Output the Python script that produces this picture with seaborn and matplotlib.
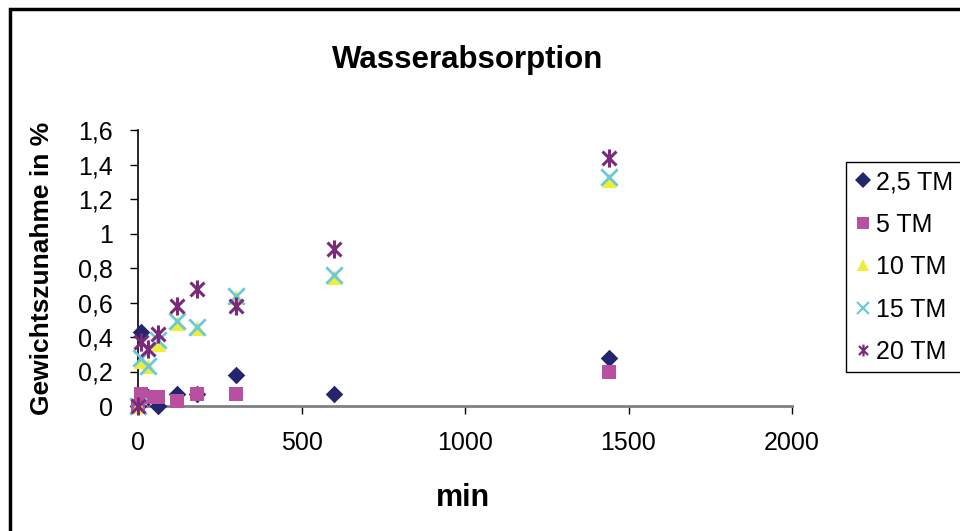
import numpy as np
import pandas as pd
import matplotlib
matplotlib.use("Agg")
import matplotlib.pyplot as plt
import seaborn as sns
from matplotlib.path import Path
from matplotlib.lines import Line2D
from matplotlib.patches import Rectangle

# ---- data ----
minutes = [0, 10, 30, 60, 120, 180, 300, 600, 1440]
tm_2_5 = [0.00, 0.43, 0.05, 0.00, 0.07, 0.07, 0.18, 0.07, 0.28]
tm_5 = [0.00, 0.07, 0.05, 0.05, 0.03, 0.07, 0.07, np.nan, 0.20]
tm_10 = [0.00, 0.26, 0.23, 0.36, 0.48, 0.45, 0.63, 0.75, 1.31]
tm_15 = [0.00, 0.28, 0.23, 0.38, 0.49, 0.46, 0.64, 0.76, 1.33]
tm_20 = [0.00, 0.37, 0.33, 0.42, 0.58, 0.68, 0.58, 0.91, 1.44]
series_labels = ["2,5 TM", "5 TM", "10 TM", "15 TM", "20 TM"]
y_ticks = [0, 0.2, 0.4, 0.6, 0.8, 1.0, 1.2, 1.4, 1.6]
y_tick_labels = ["0", "0,2", "0,4", "0,6", "0,8", "1", "1,2", "1,4", "1,6"]
x_ticks = [0, 500, 1000, 1500, 2000]
x_tick_labels = ["0", "500", "1000", "1500", "2000"]

sns.set_style("white")
plt.rcParams["font.family"] = ["Liberation Sans", "DejaVu Sans"]
plt.rcParams["text.color"] = "black"
plt.rcParams["xtick.color"] = "black"
plt.rcParams["ytick.color"] = "black"

star = Path([(-1, -1), (1, 1), (-1, 1), (1, -1), (0, -1.3), (0, 1.3)],
            [Path.MOVETO, Path.LINETO, Path.MOVETO, Path.LINETO, Path.MOVETO, Path.LINETO])

styles = [
    dict(marker="D", color="#25256f", s=80, lw=0, filled=True),
    dict(marker="s", color="#b84fa0", s=100, lw=0, filled=True),
    dict(marker="^", color="#eeee3a", s=120, lw=0, filled=True),
    dict(marker="x", color="#6cc9dc", s=140, lw=2.0, filled=False),
    dict(marker=star, color="#7a2a78", s=170, lw=2.2, filled=False),
]
values = [tm_2_5, tm_5, tm_10, tm_15, tm_20]

fig = plt.figure(figsize=(9.6, 5.31), dpi=100)
ax = fig.add_axes([138 / 960, (531 - 406) / 531, 654 / 960, 276 / 531])

for i, (vals, st, lab) in enumerate(zip(values, styles, series_labels)):
    df = pd.DataFrame({"min": minutes, "val": vals}).dropna()
    if st["filled"]:
        sns.scatterplot(data=df, x="min", y="val", ax=ax, marker=st["marker"],
                        color=st["color"], s=st["s"], linewidth=0,
                        clip_on=False, zorder=3 + i, legend=False)
    else:
        sns.scatterplot(data=df, x="min", y="val", ax=ax, marker=st["marker"],
                        color=st["color"], edgecolor=st["color"], s=st["s"],
                        linewidth=st["lw"], clip_on=False, zorder=3 + i, legend=False)

ax.set_xlim(0, 2000)
ax.set_ylim(0, 1.6)
ax.set_xticks(x_ticks)
ax.set_xticklabels(x_tick_labels, fontsize=18, color="black")
ax.set_yticks(y_ticks)
ax.set_yticklabels(y_tick_labels, fontsize=18, color="black")
ax.set_xlabel("")
ax.set_ylabel("")
for sp in ["top", "right"]:
    ax.spines[sp].set_visible(False)
ax.spines["left"].set_color("black")
ax.spines["left"].set_linewidth(1.2)
ax.spines["bottom"].set_color("#808080")
ax.spines["bottom"].set_linewidth(2)
ax.tick_params(axis="y", direction="out", length=6, width=1, color="black", pad=12, left=True)
ax.tick_params(axis="x", direction="out", length=6, width=1, color="black", pad=12, bottom=True)
ax.grid(False)

fig.text(468 / 960, 1 - 60 / 531, "Wasserabsorption", ha="center", va="center",
         fontsize=22.5, fontweight="bold", color="black")
fig.text(42 / 960, 1 - 268 / 531, "Gewichtszunahme in %", ha="center", va="center",
         rotation=90, fontsize=19, fontweight="bold", color="black")
fig.text(463 / 960, 1 - 498 / 531, "min", ha="center", va="center",
         fontsize=22, fontweight="bold", color="black")

handles = []
for st in styles:
    if st["filled"]:
        h = Line2D([], [], linestyle="none", marker=st["marker"], markersize=8,
                   markerfacecolor=st["color"], markeredgecolor=st["color"], markeredgewidth=0)
    else:
        h = Line2D([], [], linestyle="none", marker=st["marker"], markersize=8.5,
                   color=st["color"], markeredgewidth=1.6)
    handles.append(h)
leg = fig.legend(handles, series_labels, loc="upper left",
                 bbox_to_anchor=(846 / 960, 1 - 162 / 531), fontsize=18,
                 frameon=True, fancybox=False, edgecolor="black", framealpha=1,
                 borderaxespad=0, labelspacing=0.74, handlelength=0.7,
                 handletextpad=0.2, borderpad=0.32)
leg.get_frame().set_linewidth(1.0)
for t in leg.get_texts():
    t.set_color("black")

fig.patches.append(Rectangle((9.5 / 960, -0.1), 1.2, 1 - 9 / 531 + 0.1,
                             transform=fig.transFigure, fill=False,
                             edgecolor="black", linewidth=2.5))

fig.savefig("out.png", dpi=100)
